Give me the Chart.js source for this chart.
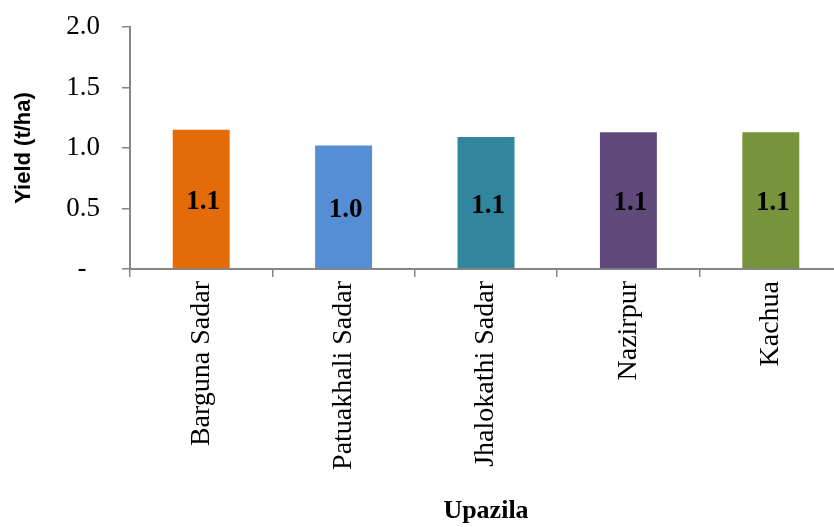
<!DOCTYPE html>
<html><head><meta charset="utf-8">
<script src="https://cdn.jsdelivr.net/npm/chart.js@4/dist/chart.umd.min.js"></script>
<style>html,body{margin:0;padding:0;background:#fff;overflow:hidden;}#wrap{width:842px;height:527px;}</style>
</head><body>
<div id="wrap"><canvas id="c" width="842" height="527"></canvas></div>
<script>
const categories = ["Barguna Sadar", "Patuakhali Sadar", "Jhalokathi Sadar", "Nazirpur", "Kachua"];
const yieldValues = [1.15, 1.02, 1.09, 1.13, 1.13];
const barLabels = ["1.1", "1.0", "1.1", "1.1", "1.1"];
const barColors = ["#E36C09", "#558ED5", "#31859C", "#604A7B", "#77933C"];
const yTicks = [0, 0.5, 1.0, 1.5, 2.0];

const labelPlugin = {
  id: 'barLabels',
  afterDatasetsDraw(chart) {
    const ctx = chart.ctx;
    const meta = chart.getDatasetMeta(0);
    ctx.save();
    ctx.font = 'bold 27px "Liberation Serif", "Times New Roman", serif';
    ctx.fillStyle = '#000';
    ctx.textAlign = 'center';
    ctx.textBaseline = 'middle';
    meta.data.forEach((bar, i) => {
      const mid = (bar.y + bar.base) / 2;
      ctx.fillText(barLabels[i], bar.x + 2, mid + 3);
    });
    ctx.restore();
  }
};

new Chart(document.getElementById('c'), {
  type: 'bar',
  data: {
    labels: categories,
    datasets: [{
      data: yieldValues,
      backgroundColor: barColors,
      barPercentage: 0.4,
      categoryPercentage: 1.0
    }]
  },
  options: {
    responsive: false,
    animation: false,
    layout: { padding: { top: 27, right: 0, left: 0, bottom: 0 } },
    plugins: { legend: { display: false }, tooltip: { enabled: false } },
    scales: {
      y: {
        min: 0, max: 2,
        afterBuildTicks(scale) { scale.ticks = yTicks.map(v => ({ value: v })); },
        afterFit(scale) { scale.width = 130; scale.paddingTop = 0; scale.paddingBottom = 0; },
        ticks: {
          color: '#000',
          font: { family: '"Liberation Serif", "Times New Roman", serif', size: 27 },
          padding: 22,
          callback: v => v === 0 ? '-\u2007' : Number(v).toFixed(1)
        },
        grid: { drawOnChartArea: false, drawTicks: true, tickLength: 8, color: '#868686', lineWidth: 1.5 },
        border: { color: '#868686', width: 2 },
        title: {
          display: true, text: 'Yield (t/ha)', color: '#000',
          font: { family: '"Liberation Sans", Arial, sans-serif', size: 22, weight: 'bold' },
          padding: { top: 11, bottom: 0 }
        }
      },
      x: {
        afterFit(scale) { scale.height = 527 - 27 - 242; },
        ticks: {
          color: '#000', maxRotation: 90, minRotation: 90, autoSkip: false,
          font: { family: '"Liberation Serif", "Times New Roman", serif', size: 28 },
          padding: 4
        },
        grid: { offset: true, drawOnChartArea: false, drawTicks: true, tickLength: 8, color: '#868686', lineWidth: 1.5 },
        border: { color: '#868686', width: 2 },
        title: {
          display: true, text: 'Upazila', color: '#000',
          font: { family: '"Liberation Serif", "Times New Roman", serif', size: 26, weight: 'bold' },
          padding: { top: 0, bottom: 0 }
        }
      }
    }
  },
  plugins: [labelPlugin]
});
</script>
</body></html>
